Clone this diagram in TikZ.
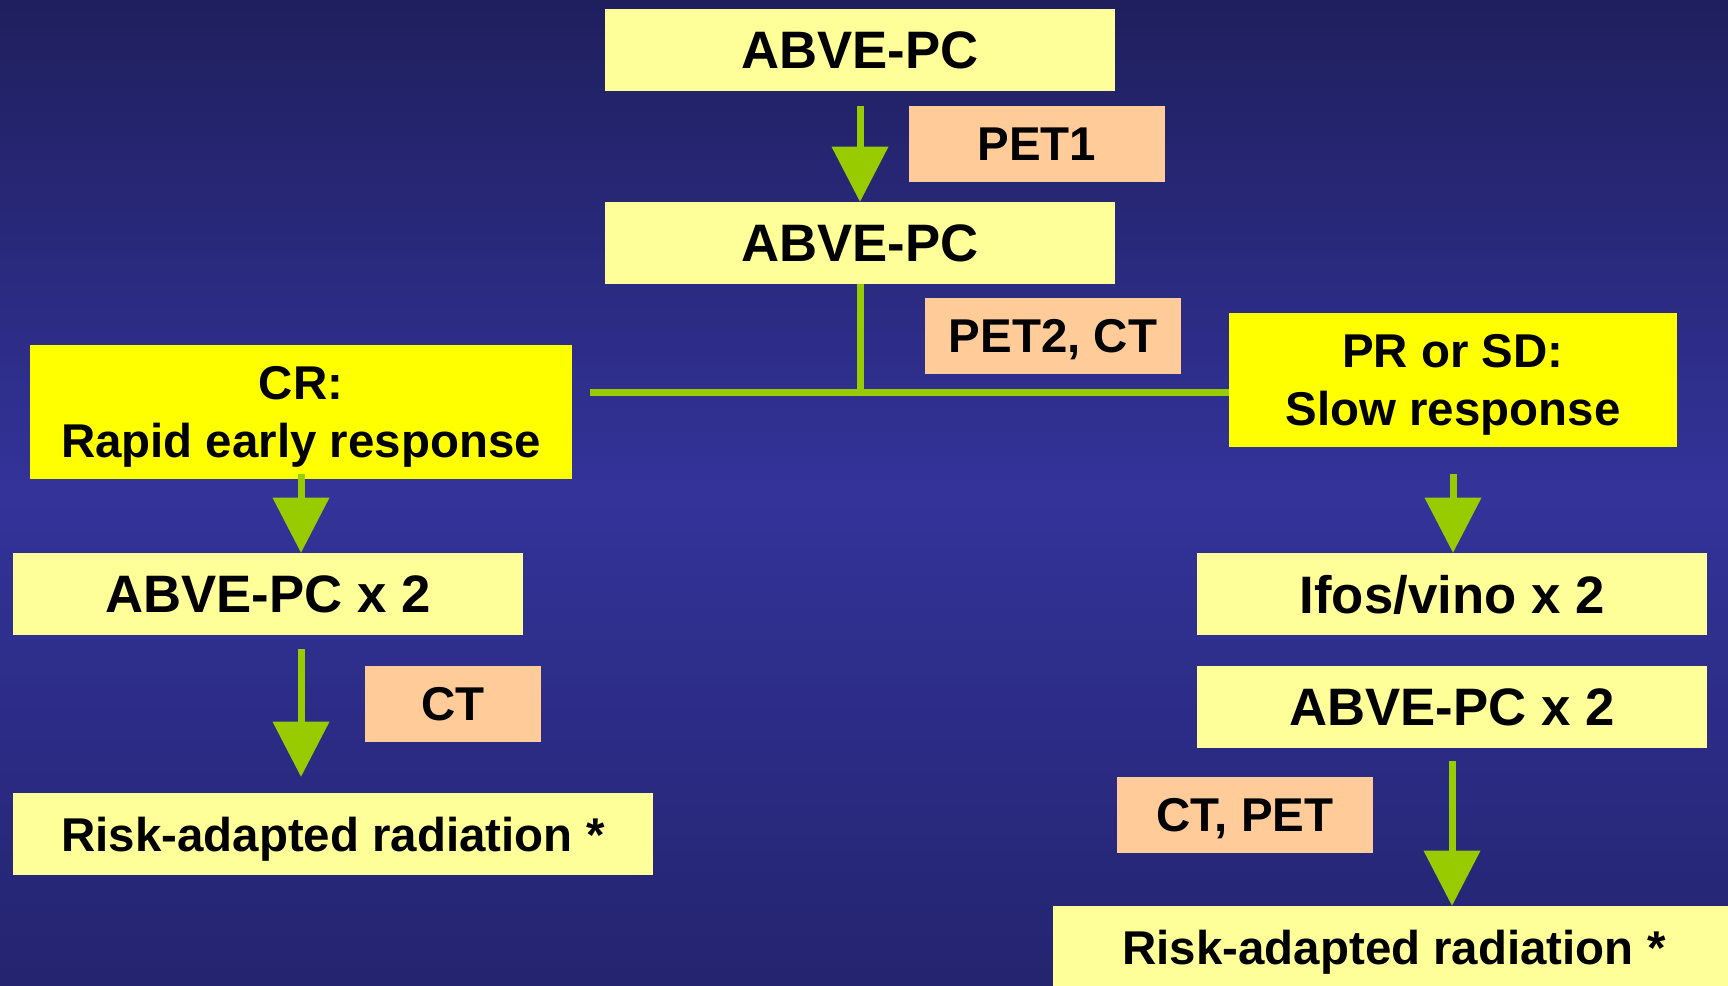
\documentclass[tikz,border=0pt]{standalone}
\usepackage{fontspec}
\setmainfont{Liberation Sans}
\usetikzlibrary{arrows.meta,positioning}

\definecolor{bgtop}{RGB}{31,31,94}
\definecolor{bgmid}{RGB}{51,51,154}
\definecolor{bgbot}{RGB}{36,36,112}
\definecolor{paleyel}{RGB}{255,255,153}
\definecolor{brightyel}{RGB}{255,255,0}
\definecolor{peach}{RGB}{255,204,153}
\definecolor{arrgreen}{RGB}{153,204,0}

\begin{document}
\begin{tikzpicture}[
    x=0.02cm,y=-0.02cm,
    >={Triangle[length=1.1cm,width=1.14cm,line width=0pt]},
    box/.style={
        rectangle,
        fill=paleyel,
        minimum width=10.2cm,
        minimum height=1.64cm,
        inner sep=0pt,
        text depth=0pt,
        align=center,
        font=\bfseries\fontsize{30}{36}\selectfont,
        text=black
    },
    wide/.style={
        box,
        font=\bfseries\fontsize{27}{33}\selectfont
    },
    resp/.style={
        rectangle,
        fill=brightyel,
        minimum height=2.68cm,
        inner sep=0pt,
        text depth=0pt,
        align=center,
        font=\bfseries\fontsize{27}{33}\selectfont,
        text=black
    },
    test/.style={
        rectangle,
        fill=peach,
        minimum width=5.12cm,
        minimum height=1.52cm,
        inner sep=0pt,
        text depth=0pt,
        font=\bfseries\fontsize{27}{33}\selectfont,
        text=black
    },
    flow/.style={draw=arrgreen, line width=0.14cm},
    arr/.style={flow, ->}
]

% ====== background ======
\useasboundingbox (0,0) rectangle (1728,985);
\clip (0,0) rectangle (1728,985);
\shade[top color=bgtop, bottom color=bgbot, middle color=bgmid] (0,0) rectangle (1728,985);

% ====== top ======
\node[box] (abve1) at (860,50) {ABVE-PC};
\node[test] (pet1) at (1037,144) {PET1};
\node[box] (abve2) at (860,243) {ABVE-PC};
\node[test] (pet2) at (1053,336) {PET2, CT};

\draw[arr, shorten <=0.3cm] (abve1) -- (abve2);

% ====== split ======
\node[resp, minimum width=10.86cm] (cr) at (301,412) {CR:\\Rapid early response};
\node[resp, minimum width=8.96cm] (pr) at (1453,380) {PR or SD:\\Slow response};

\coordinate (junc) at (860,392);
\coordinate (lend) at (590,392);

\draw[flow] (abve2) -- (junc);
\draw[flow] (lend) -- (junc -| pr.west);

% ====== left: rapid ======
\node[box] (abvel) at (268,594) {ABVE-PC x 2};
\node[test, minimum width=3.52cm] (ct) at (453,704) {CT};
\node[wide, minimum width=12.8cm] (riskl) at (333,834) {Risk-adapted radiation *};

\draw[arr] ([yshift=0.1cm]cr.south) -- (cr.south |- abvel.north);
\draw[arr, shorten <=0.28cm, shorten >=0.32cm] (abvel.south -| cr.south) -- (riskl.north -| cr.south);

% ====== right: slow ======
\node[box] (ifos) at (1452,594) {Ifos/vino x 2};
\node[box] (abver) at (1452,707) {ABVE-PC x 2};
\node[test] (ctpet) at (1245,815) {CT, PET};
\node[wide, minimum width=13.64cm] (riskr) at (1394,947) {Risk-adapted radiation *}; % runs off the edge

\draw[arr, shorten <=0.54cm] (pr) -- (pr |- ifos.north);
\draw[arr, shorten <=0.26cm] (abver) -- (riskr.north -| abver);

\end{tikzpicture}
\end{document}
